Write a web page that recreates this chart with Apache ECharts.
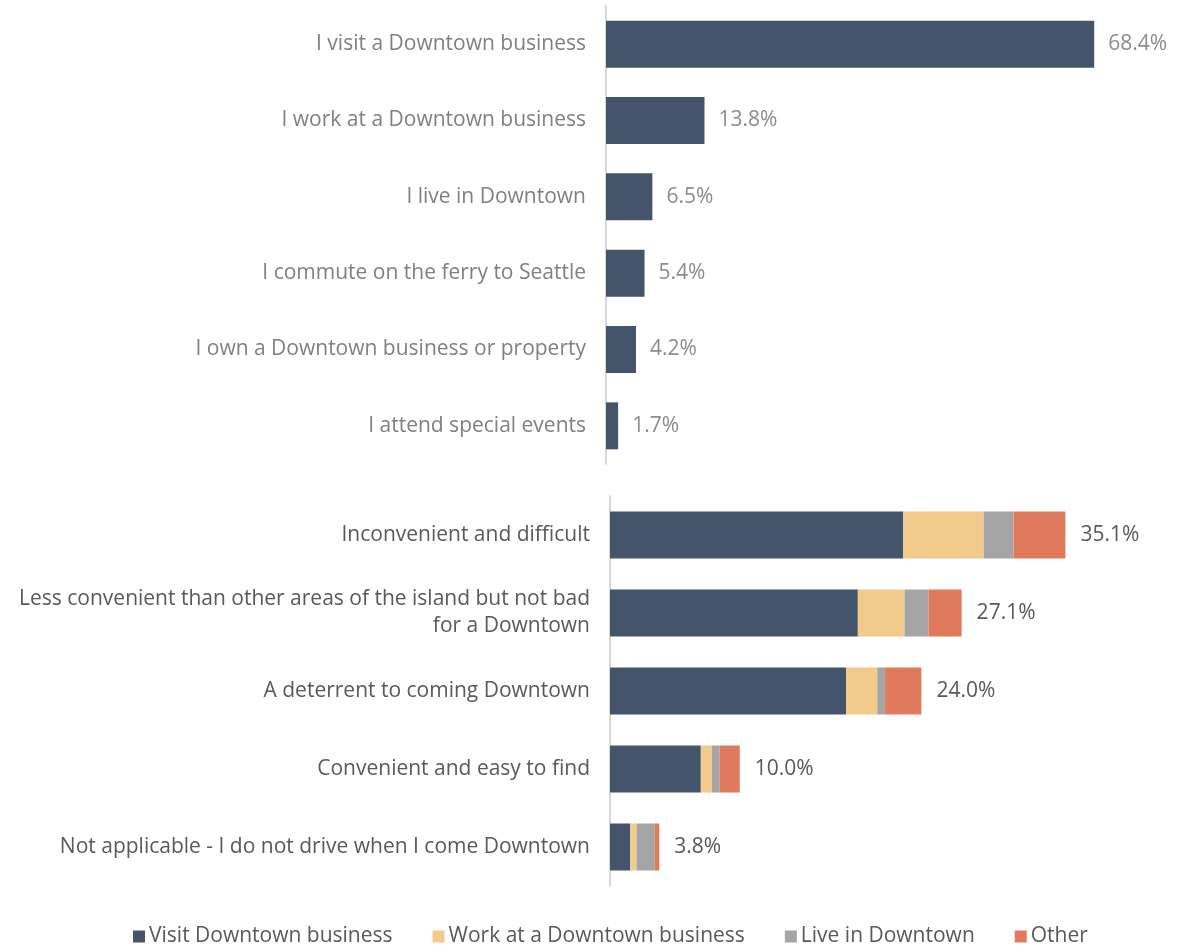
<!DOCTYPE html>
<html>
<head>
<meta charset="utf-8">
<script src="https://cdn.jsdelivr.net/npm/echarts@6/dist/echarts.min.js"></script>
<style>html,body{margin:0;padding:0;background:#fff}#c{width:1194px;height:946px}</style>
</head>
<body>
<div id="c"></div>
<script>
const topCategories = ["I visit a Downtown business","I work at a Downtown business","I live in Downtown","I commute on the ferry to Seattle","I own a Downtown business or property","I attend special events"];
const topValues = [68.4, 13.8, 6.5, 5.4, 4.2, 1.7];

const bottomCategories = ["Inconvenient and difficult","Less convenient than other areas of the island but not bad\nfor a Downtown","A deterrent to coming Downtown","Convenient and easy to find","Not applicable - I do not drive when I come Downtown"];
const seriesNames = ["Visit Downtown business","Work at a Downtown business","Live in Downtown","Other"];
const visitValues = [22.6, 19.1, 18.2, 7.0, 1.55];
const workValues = [6.2, 3.6, 2.4, 0.85, 0.5];
const liveValues = [2.3, 1.85, 0.6, 0.6, 1.4];
const otherValues = [4.0, 2.55, 2.8, 1.55, 0.35];
const bottomTotals = [35.1, 27.1, 24.0, 10.0, 3.8];

const colors = ["#44546a", "#f2ca8c", "#a5a5a5", "#e07a5d"];
const FONT = "Open Sans";
const FS = 21;

const chart = echarts.init(document.getElementById('c'));
const stackData = [visitValues, workValues, liveValues, otherValues];
const stackSeries = seriesNames.map((n, i) => ({
  name: n, type: 'bar', stack: 'total', xAxisIndex: 1, yAxisIndex: 1,
  data: stackData[i], barWidth: 47,
  itemStyle: { color: colors[i] },
  label: i === 3 ? {
    show: true, position: 'right', distance: 15,
    formatter: p => bottomTotals[p.dataIndex].toFixed(1) + '%',
    color: '#595959', fontSize: FS, fontFamily: FONT
  } : { show: false }
}));

chart.setOption({
  animation: false,
  grid: [
    { left: 606, width: 571, top: 6, height: 458 },
    { left: 610, width: 519, top: 496, height: 390 }
  ],
  xAxis: [
    { gridIndex: 0, type: 'value', min: 0, max: 80, show: false },
    { gridIndex: 1, type: 'value', min: 0, max: 40, show: false }
  ],
  yAxis: [
    { gridIndex: 0, type: 'category', data: topCategories, inverse: true,
      axisLine: { lineStyle: { color: '#d9d9d9', width: 2 } }, axisTick: { show: false },
      axisLabel: { color: '#808080', fontSize: FS, fontFamily: FONT, margin: 20 } },
    { gridIndex: 1, type: 'category', data: bottomCategories, inverse: true,
      axisLine: { lineStyle: { color: '#d9d9d9', width: 2 } }, axisTick: { show: false },
      axisLabel: { color: '#595959', fontSize: FS, fontFamily: FONT, margin: 20, lineHeight: 27, align: 'right' } }
  ],
  legend: {
    bottom: -1, left: 128, itemWidth: 12, itemHeight: 12, itemGap: 40,
    padding: [5, 5, 0, 5],
    icon: 'rect', data: seriesNames,
    textStyle: { color: '#595959', fontSize: FS, fontFamily: FONT, padding: [0, 0, 0, -1] }
  },
  series: [
    { type: 'bar', xAxisIndex: 0, yAxisIndex: 0, data: topValues, barWidth: 47,
      itemStyle: { color: colors[0] },
      label: { show: true, position: 'right', distance: 14, formatter: p => p.value.toFixed(1) + '%',
        color: '#8c8c8c', fontSize: FS, fontFamily: FONT } },
    ...stackSeries
  ]
});
</script>
</body>
</html>
